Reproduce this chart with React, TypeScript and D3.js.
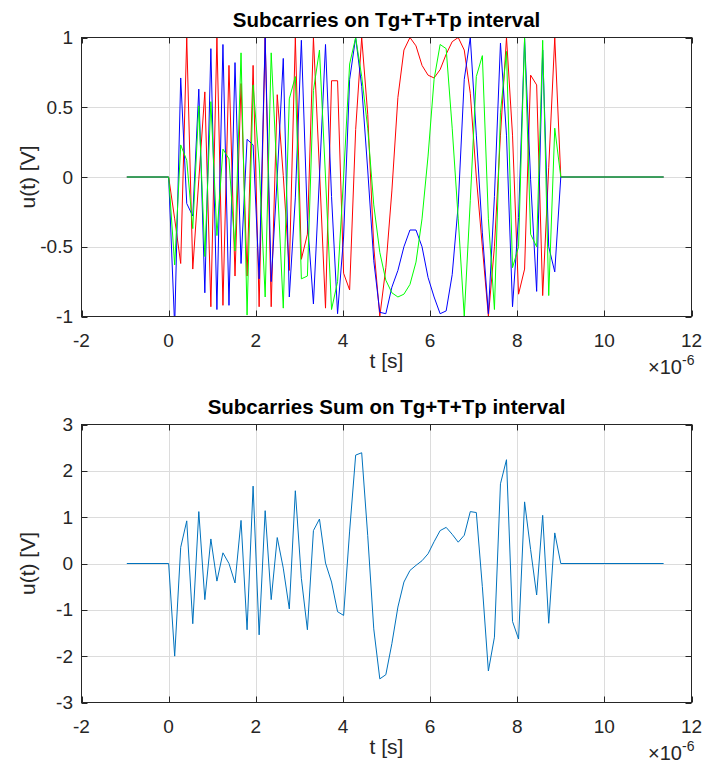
import React from "react";
import * as d3 from "d3";

// ---------- data (time in microseconds, values in volts) ----------
const T_START = -0.96;
const T_END = 11.36;
const T_SIGNAL = 9;
const N_INTERVALS = 65;

const redValues = [
  0, -0.3, -0.62, 1.0, -0.66, -0.02, 0.61, -0.93, 1.0, -0.92,
  0.8, -0.71, 0.67, -0.71, 0.8, -0.93, 1.0, -0.93, 0.59, 0.01,
  -0.67, 1.0, -0.59, -0.41, 1.0, 0.05, -0.94, 0.69, 0.69, -0.69,
  -0.81, 0.34, 1.0, 0.45, -0.5, -1.0, -0.65, -0.1, 0.57, 0.91,
  1.0, 0.94, 0.8, 0.73, 0.71, 0.77, 0.88, 0.97, 1.0, 0.91,
  0.6, 0.0, -0.5, -1.0, -0.5, 0.3, 1.0, 0.3, -0.84, -0.66,
  0.73, 0.66, -0.85, 0.07, 1.0, 0,
];

const greenValues = [
  0, -0.63, 0.23, 0.12, -0.37, 0.51, -0.57, 0.54, -0.42, 0.2,
  0.13, -0.53, 0.89, -0.99, 0.66, 0.1, -0.86, 0.89, -0.02, -0.94,
  0.56, 0.72, -0.73, -0.71, 0.62, 0.91, 0.0, -0.95, -0.75, 0.0,
  0.81, 1.0, 0.72, 0.35, -0.2, -0.54, -0.74, -0.83, -0.86, -0.84,
  -0.77, -0.61, -0.3, 0.15, 0.7, 0.95, 0.92, 0.35, -0.3, -1.0,
  -0.17, 0.72, 0.87, -0.3, -0.95, 0.46, 0.9, -0.65, -0.5, 1.0,
  -0.41, -0.5, 0.98, -0.85, 0.35, 0,
];

const blueValues = [
  0, -1.07, 0.71, -0.19, -0.28, 0.63, -0.83, 0.92, -0.95, 0.95,
  -0.92, 0.82, -0.62, 0.27, 0.23, -0.73, 1.0, -0.75, 0.0, 0.85,
  -0.86, -0.15, 0.98, -0.31, -0.91, 0.0, 0.95, -0.14, -0.98, -0.43,
  0.7, 1.0, 0.65, 0.05, -0.6, -0.97, -0.98, -0.79, -0.67, -0.5,
  -0.38, -0.38, -0.5, -0.72, -0.86, -0.98, -0.96, -0.7, -0.2, 0.7,
  1.0, 0.3, -0.4, -0.98, -0.14, 0.96, 0.3, -0.93, -0.29, 0.99,
  -0.02, -0.82, 0.91, -0.5, -0.68, 0,
];

const sumValues = [
  0, -2.0, 0.35, 0.92, -1.3, 1.12, -0.78, 0.53, -0.38, 0.23,
  0.0, -0.42, 0.93, -1.43, 1.67, -1.54, 1.14, -0.78, 0.56, -0.1,
  -0.98, 1.57, -0.32, -1.43, 0.71, 0.96, 0.01, -0.4, -1.04, -1.12,
  0.7, 2.34, 2.39, 0.6, -1.41, -2.49, -2.4, -1.73, -0.94, -0.4,
  -0.15, -0.04, 0.06, 0.21, 0.47, 0.71, 0.78, 0.63, 0.46, 0.61,
  1.12, 1.1, -0.5, -2.32, -1.59, 1.72, 2.24, -1.25, -1.63, 1.33,
  0.3, -0.68, 1.04, -1.29, 0.66, 0,
];

const xTicks = [-2, 0, 2, 4, 6, 8, 10, 12];
const xTickLabels = ["-2", "0", "2", "4", "6", "8", "10", "12"];
const topYTicks = [-1, -0.5, 0, 0.5, 1];
const topYTickLabels = ["-1", "-0.5", "0", "0.5", "1"];
const bottomYTicks = [-3, -2, -1, 0, 1, 2, 3];
const bottomYTickLabels = ["-3", "-2", "-1", "0", "1", "2", "3"];

const topTitle = "Subcarries on Tg+T+Tp interval";
const bottomTitle = "Subcarries Sum on Tg+T+Tp interval";
const xLabel = "t [s]";
const yLabel = "u(t) [V]";

// ---------- layout ----------
const W = 707;
const H = 763;
const LEFT = 81.5;
const RIGHT = 691.5;
const FONT = "'Liberation Sans', Arial, Helvetica, sans-serif";
const AXIS_COLOR = "#262626";
const GRID_COLOR = "#dcdcdc";
const TICK_LEN = 6;

type Pt = [number, number];

function buildSeries(values: number[]): Pt[] {
  const dt = T_SIGNAL / N_INTERVALS;
  const pts: Pt[] = [[T_START, 0]];
  values.forEach((v, k) => pts.push([k * dt, v]));
  pts.push([T_END, 0]);
  return pts;
}

type PanelProps = {
  id: string;
  top: number;
  bottom: number;
  yDomain: [number, number];
  yTicks: number[];
  yTickLabels: string[];
  title: string;
  lines: { values: number[]; color: string }[];
};

function Panel({ id, top, bottom, yDomain, yTicks, yTickLabels, title, lines }: PanelProps) {
  const x = d3.scaleLinear().domain([-2, 12]).range([LEFT, RIGHT]);
  const y = d3.scaleLinear().domain(yDomain).range([bottom, top]);
  const line = d3
    .line<Pt>()
    .x((d) => x(d[0]))
    .y((d) => y(d[1]));
  const cx = (LEFT + RIGHT) / 2;
  const cy = (top + bottom) / 2;
  return (
    <g>
      <defs>
        <clipPath id={id}>
          <rect x={LEFT} y={top} width={RIGHT - LEFT} height={bottom - top} />
        </clipPath>
      </defs>
      <rect x={LEFT} y={top} width={RIGHT - LEFT} height={bottom - top} fill="#fff" />
      {/* grid */}
      {xTicks.map((t) => {
        const px = Math.round(x(t)) + 0.5;
        if (t === -2 || t === 12) return null;
        return <line key={"gx" + t} x1={px} x2={px} y1={top} y2={bottom} stroke={GRID_COLOR} strokeWidth={1} />;
      })}
      {yTicks.map((t) => {
        const py = Math.round(y(t)) + 0.5;
        if (t === yDomain[0] || t === yDomain[1]) return null;
        return <line key={"gy" + t} x1={LEFT} x2={RIGHT} y1={py} y2={py} stroke={GRID_COLOR} strokeWidth={1} />;
      })}
      {/* data */}
      <g clipPath={`url(#${id})`}>
        {lines.map((l, i) => (
          <path
            key={i}
            d={line(buildSeries(l.values)) || ""}
            fill="none"
            stroke={l.color}
            strokeWidth={1}
            strokeLinejoin="miter"
          />
        ))}
      </g>
      {/* box */}
      <rect x={LEFT} y={top} width={RIGHT - LEFT} height={bottom - top} fill="none" stroke={AXIS_COLOR} strokeWidth={1} />
      {/* ticks */}
      {xTicks.map((t) => {
        const px = Math.round(x(t)) + 0.5;
        return (
          <g key={"tx" + t}>
            <line x1={px} x2={px} y1={bottom} y2={bottom - TICK_LEN} stroke={AXIS_COLOR} />
            <line x1={px} x2={px} y1={top} y2={top + TICK_LEN} stroke={AXIS_COLOR} />
          </g>
        );
      })}
      {yTicks.map((t) => {
        const py = Math.round(y(t)) + 0.5;
        return (
          <g key={"ty" + t}>
            <line x1={LEFT} x2={LEFT + TICK_LEN} y1={py} y2={py} stroke={AXIS_COLOR} />
            <line x1={RIGHT} x2={RIGHT - TICK_LEN} y1={py} y2={py} stroke={AXIS_COLOR} />
          </g>
        );
      })}
      {/* tick labels */}
      {xTicks.map((t, i) => (
        <text key={"lx" + t} x={x(t)} y={bottom + 30} textAnchor="middle" fontSize={19} fill={AXIS_COLOR} fontFamily={FONT}>
          {xTickLabels[i]}
        </text>
      ))}
      {yTicks.map((t, i) => (
        <text key={"ly" + t} x={73} y={y(t)} dy="0.35em" textAnchor="end" fontSize={19} fill={AXIS_COLOR} fontFamily={FONT}>
          {yTickLabels[i]}
        </text>
      ))}
      {/* labels */}
      <text x={cx} y={bottom + 51} textAnchor="middle" fontSize={21} fill={AXIS_COLOR} fontFamily={FONT}>
        {xLabel}
      </text>
      <text
        transform={`translate(35,${cy}) rotate(-90)`}
        textAnchor="middle"
        fontSize={21}
        fill={AXIS_COLOR}
        fontFamily={FONT}
      >
        {yLabel}
      </text>
      <text x={682} y={bottom + 57} textAnchor="end" fontSize={20} fill={AXIS_COLOR} fontFamily={FONT}>
        {"\u00d710"}
      </text>
      <text x={682} y={bottom + 48} textAnchor="start" fontSize={14} fill={AXIS_COLOR} fontFamily={FONT}>
        -6
      </text>
      <text x={cx} y={top - 11} textAnchor="middle" fontSize={20.5} fontWeight="bold" fill="#000" fontFamily={FONT}>
        {title}
      </text>
    </g>
  );
}

export default function App() {
  return (
    <svg
      width={W}
      height={H}
      viewBox={`0 0 ${W} ${H}`}
      style={{ position: "absolute", left: 0, top: 0, background: "#fff" }}
    >
      <rect x={0} y={0} width={W} height={H} fill="#fff" />
      <Panel
        id="clipTop"
        top={37.5}
        bottom={316.5}
        yDomain={[-1, 1]}
        yTicks={topYTicks}
        yTickLabels={topYTickLabels}
        title={topTitle}
        lines={[
          { values: redValues, color: "#ff0000" },
          { values: blueValues, color: "#0000ff" },
          { values: greenValues, color: "#00ff00" },
        ]}
      />
      <Panel
        id="clipBottom"
        top={424.5}
        bottom={702.5}
        yDomain={[-3, 3]}
        yTicks={bottomYTicks}
        yTickLabels={bottomYTickLabels}
        title={bottomTitle}
        lines={[{ values: sumValues, color: "#0072bd" }]}
      />
    </svg>
  );
}
